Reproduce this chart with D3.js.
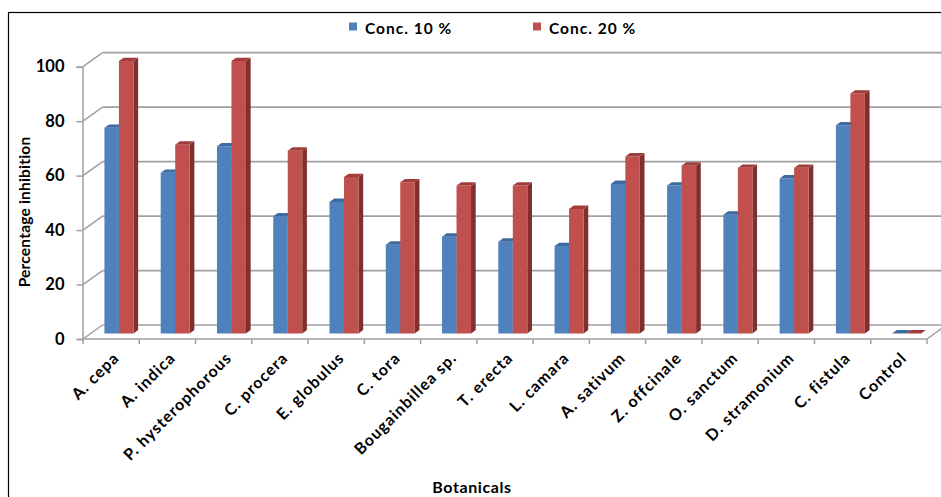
<!DOCTYPE html>
<html lang="en">
<head>
    <meta charset="utf-8">
    <title>Percentage inhibition</title>
    <style>
        body { margin: 0; background: #fff; }
        text { font-family: Lato, "Open Sans", sans-serif; font-weight: bold; fill: #000; }
    </style>
</head>
<body>
    <div id="my_dataviz"></div>
    <script src="https://d3js.org/d3.v7.min.js"></script>
    <script>
        // data
        const categories = ["A. cepa", "A. indica", "P. hysterophorous", "C. procera", "E. globulus",
            "C. tora", "Bougainbillea sp.", "T. erecta", "L. camara", "A. sativum",
            "Z. offcinale", "O. sanctum", "D. stramonium", "C. fistula", "Control"];
        const conc10 = [75.5, 59, 68.7, 43, 48.3, 32.6, 35.5, 33.7, 32.1, 54.9, 54.3, 43.6, 56.9, 76.4, 0];
        const conc20 = [100, 69.3, 100, 67.1, 57.4, 55.5, 54.3, 54.3, 45.7, 65, 61.6, 60.8, 60.8, 88.1, 0];
        const seriesNames = ["Conc. 10 %", "Conc. 20 %"];
        const yTicks = [0, 20, 40, 60, 80, 100];

        const width = 941, height = 497;
        const colors = { "Conc. 10 %": "#4F81BD", "Conc. 20 %": "#C0504D" };
        const sideCol = { "Conc. 10 %": "#385d8a", "Conc. 20 %": "#7f302e" };
        const topCol = { "Conc. 10 %": "#3e6aa0", "Conc. 20 %": "#a13d3a" };

        // depth of the 3d box
        const DX = 19.5, DY = -14;
        const d0 = 0.4, d1 = 0.64; // front and back of the bars

        const svg = d3.select("#my_dataviz")
            .append("svg")
            .attr("width", width)
            .attr("height", height);

        // outer frame
        svg.append("rect")
            .attr("x", 8.5).attr("y", 12.5)
            .attr("width", 1000).attr("height", 1000)
            .attr("fill", "none").attr("stroke", "#000").attr("stroke-width", 1.2);

        const x = d3.scaleBand().domain(categories).range([83, 927]);
        const xs = d3.scaleBand().domain(seriesNames).range([0, x.bandwidth()]).paddingOuter(0.94);
        const y = d3.scaleLinear().domain([0, 100]).range([339, 66.7]);

        const grid = "#a0a0a0";

        // left wall diagonals + back wall lines
        yTicks.forEach(t => {
            svg.append("line")
                .attr("x1", 83).attr("y1", y(t))
                .attr("x2", 83 + DX).attr("y2", y(t) + DY)
                .attr("stroke", grid).attr("stroke-width", 1.5);
            svg.append("line")
                .attr("x1", 83 + DX).attr("y1", y(t) + DY)
                .attr("x2", 960).attr("y2", y(t) + DY)
                .attr("stroke", grid).attr("stroke-width", 1.7);
        });

        // floor front edge and right side
        svg.append("path")
            .attr("d", `M83,${y(0)}H927L${927 + DX},${y(0) + DY}`)
            .attr("fill", "none").attr("stroke", grid).attr("stroke-width", 1.5);

        // category ticks at band edges
        d3.range(categories.length + 1).forEach(i => {
            const xx = 83 + i * x.step();
            svg.append("line")
                .attr("x1", xx).attr("x2", xx)
                .attr("y1", y(0)).attr("y2", y(0) + 5)
                .attr("stroke", grid).attr("stroke-width", 1.5);
        });

        // y axis
        const yAxis = svg.append("g")
            .attr("transform", "translate(82.5,0)")
            .call(d3.axisLeft(y).tickValues(yTicks).tickSize(6).tickPadding(12));
        yAxis.select(".domain").attr("stroke", grid).attr("stroke-width", 1.5);
        yAxis.selectAll(".tick line").attr("stroke", grid).attr("stroke-width", 1.5);
        yAxis.selectAll(".tick text")
            .attr("font-size", 16.5)
            .attr("font-family", "Lato, sans-serif")
            .attr("font-weight", "bold")
            .attr("fill", "#000");

        // bars
        const rows = [];
        categories.forEach((c, i) => {
            rows.push({ cat: c, s: seriesNames[0], v: conc10[i] });
            rows.push({ cat: c, s: seriesNames[1], v: conc20[i] });
        });

        const bar = svg.append("g").selectAll("g")
            .data(rows)
            .join("g");

        const pt = (px, py, d) => `${px + DX * d},${py + DY * d}`;

        bar.append("polygon") // right side
            .attr("points", d => {
                const xr = x(d.cat) + xs(d.s) + xs.bandwidth();
                return [pt(xr, y(d.v), d0), pt(xr, y(d.v), d1), pt(xr, y(0), d1), pt(xr, y(0), d0)].join(" ");
            })
            .attr("fill", d => sideCol[d.s]);

        bar.append("polygon") // front
            .attr("points", d => {
                const xl = x(d.cat) + xs(d.s), xr = xl + xs.bandwidth();
                return [pt(xl, y(d.v), d0), pt(xr, y(d.v), d0), pt(xr, y(0), d0), pt(xl, y(0), d0)].join(" ");
            })
            .attr("fill", d => colors[d.s]);

        bar.append("polygon") // top
            .attr("points", d => {
                const xl = x(d.cat) + xs(d.s), xr = xl + xs.bandwidth();
                return [pt(xl, y(d.v), d0), pt(xr, y(d.v), d0), pt(xr, y(d.v), d1), pt(xl, y(d.v), d1)].join(" ");
            })
            .attr("fill", d => topCol[d.s]);

        // category labels
        svg.append("g").selectAll("text")
            .data(categories)
            .join("text")
            .attr("transform", d => `translate(${x(d) + x.bandwidth() / 2 + 5},${y(0) + 16}) rotate(-45)`)
            .attr("text-anchor", "end")
            .attr("dy", "0.35em")
            .attr("font-size", 16)
            .attr("letter-spacing", 1)
            .text(d => d);

        // axis titles
        svg.append("text")
            .attr("transform", "translate(30,212) rotate(-90)")
            .attr("text-anchor", "middle")
            .attr("font-size", 15.5)
            .attr("letter-spacing", 0.2)
            .text("Percentage inhibition");

        svg.append("text")
            .attr("x", 472).attr("y", 493)
            .attr("text-anchor", "middle")
            .attr("font-size", 16)
            .attr("letter-spacing", 0.6)
            .text("Botanicals");

        // legend
        const legX = [349, 533];
        const leg = svg.append("g").selectAll("g")
            .data(seriesNames)
            .join("g")
            .attr("transform", (d, i) => `translate(${legX[i]},22.5)`);
        leg.append("rect")
            .attr("width", 8).attr("height", 8)
            .attr("fill", d => colors[d]);
        leg.append("text")
            .attr("x", 16).attr("y", 11)
            .attr("font-size", 15.5)
            .attr("letter-spacing", 1)
            .text(d => d);
    </script>
</body>
</html>
